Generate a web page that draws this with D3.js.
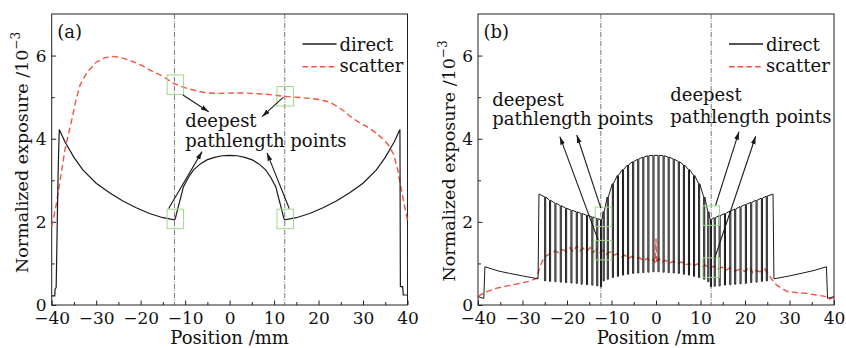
<!DOCTYPE html>
<html>
<head>
<meta charset="utf-8">
<script src="https://cdn.jsdelivr.net/npm/d3@7"></script>
<style>
  body { margin: 0; background: #fff; }
  svg { display: block; font-family: "DejaVu Serif", serif; }
</style>
</head>
<body>
<svg id="chart" width="846" height="348"></svg>
<script>
// axis ticks
const xMajor = [-40, -30, -20, -10, 0, 10, 20, 30, 40];
const xMinor = [-35, -25, -15, -5, 5, 15, 25, 35];
const yMajor = [0, 2, 4, 6];
const yMinor = [1, 3, 5];
const markerX = [-12.4, 12.4];

// panel (a): direct and scatter exposure, [position mm, value 1e-3]
const directA = [
  [-40, 0.22], [-39.3, 0.22], [-39.25, 0.38], [-39.0, 0.42], [-38.9, 1.0], [-38.75, 2.0],
  [-38.55, 3.2], [-38.3, 4.22], [-37, 3.92], [-35, 3.55], [-33, 3.25], [-30, 2.93],
  [-27, 2.7], [-24, 2.5], [-21, 2.34], [-18, 2.2], [-15, 2.1], [-12.4, 2.05],
  [-12.2, 2.08], [-11.7, 2.3], [-11, 2.58], [-10.4, 2.84], [-9.2, 3.08], [-8.1, 3.25],
  [-6.5, 3.4], [-5.1, 3.49], [-3.4, 3.55], [-1.7, 3.59], [0, 3.6], [1.7, 3.59],
  [3.4, 3.55], [5.1, 3.49], [6.5, 3.4], [8.1, 3.25], [9.2, 3.08], [10.4, 2.84],
  [11, 2.58], [11.7, 2.3], [12.2, 2.08], [12.4, 2.05], [15, 2.1], [18, 2.2],
  [21, 2.34], [24, 2.5], [27, 2.7], [30, 2.93], [33, 3.25], [35, 3.55],
  [37, 3.92], [38.3, 4.22], [38.4, 0.44], [38.9, 0.44], [39.05, 0.24], [40, 0.24]
];
const scatterA = [
  [-40, 1.88], [-39, 2.4], [-38.1, 3.0], [-37, 3.75], [-35.5, 4.45], [-34.5, 4.95],
  [-33.6, 5.3], [-32, 5.6], [-30, 5.84], [-28, 5.95], [-26.1, 5.98], [-24, 5.94],
  [-21.6, 5.85], [-19.5, 5.75], [-17.9, 5.65], [-15, 5.5], [-12.6, 5.33], [-9.6, 5.21],
  [-7, 5.14], [-5.1, 5.1], [-2, 5.09], [0.9, 5.1], [3, 5.1], [5.4, 5.09],
  [8, 5.07], [10, 5.05], [12.2, 5.02], [15.9, 4.99], [18, 4.97], [20.4, 4.94],
  [22.5, 4.88], [24.2, 4.78], [25.8, 4.66], [27.2, 4.53], [29.4, 4.37], [30.9, 4.29],
  [33, 4.13], [34.7, 3.97], [35.7, 3.85], [36.9, 3.62], [37.8, 3.25], [38.4, 2.9],
  [39.2, 2.45], [40, 2.04]
];

// panel (b): direct curve = outline points plus narrow notches
const directBOutline = [
  [-40, 0.2], [-38.7, 0.16], [-38.45, 0.92], [-35.5, 0.82], [-32.9, 0.76], [-30, 0.7],
  [-26.5, 0.63], [-26.3, 2.67], [-12.0, 2.12], [12.0, 2.12],
  [26.3, 2.67], [26.5, 0.63], [30, 0.7], [33, 0.77], [35.5, 0.83], [38.3, 0.92],
  [38.55, 0.16], [40, 0.2]
];
const notchX = [
  -24.9, -23.8, -22.6, -21.4, -20.2, -19.0, -17.8, -16.7, -15.5, -14.3, -13.2, -12.35,
  -11.75, -10.83, -9.69, -8.55, -7.41, -6.27, -5.13, -3.99, -2.85, -1.71, -0.57,
  0.57, 1.71, 2.85, 3.99, 5.13, 6.27, 7.41, 8.55, 9.69, 10.83, 11.75,
  12.35, 13.2, 14.3, 15.5, 16.7, 17.8, 19.0, 20.2, 21.4, 22.6, 23.8, 24.9
];
const notchTop = [
  2.6, 2.52, 2.45, 2.39, 2.33, 2.28, 2.24, 2.2, 2.16, 2.12, 2.08, 2.05,
  2.25, 2.6, 2.92, 3.12, 3.26, 3.37, 3.45, 3.51, 3.56, 3.59, 3.6,
  3.6, 3.59, 3.56, 3.51, 3.45, 3.37, 3.26, 3.12, 2.92, 2.6, 2.25,
  2.06, 2.1, 2.15, 2.2, 2.26, 2.31, 2.37, 2.42, 2.47, 2.52, 2.57, 2.62
];
const notchBottom = [
  0.58, 0.57, 0.56, 0.55, 0.54, 0.53, 0.52, 0.5, 0.49, 0.48, 0.46, 0.44,
  0.58, 0.62, 0.66, 0.69, 0.72, 0.74, 0.76, 0.77, 0.78, 0.79, 0.8,
  0.8, 0.79, 0.78, 0.77, 0.76, 0.74, 0.72, 0.69, 0.66, 0.62, 0.56,
  0.44, 0.45, 0.46, 0.48, 0.49, 0.5, 0.51, 0.52, 0.54, 0.55, 0.57, 0.58
];
const scatterB = [
  [-40, 0.2], [-39.2, 0.26], [-38, 0.32], [-36, 0.4], [-34.3, 0.44], [-32, 0.49],
  [-30.6, 0.52], [-28.5, 0.57], [-26.8, 0.64], [-26.1, 0.92], [-25.5, 1.06], [-24.9, 1.16],
  [-23.8, 1.24], [-22.7, 1.3], [-21.9, 1.26], [-21, 1.33], [-20.1, 1.29], [-19.3, 1.38],
  [-18.6, 1.28], [-17.8, 1.42], [-17.1, 1.3], [-16.4, 1.37], [-15.6, 1.29], [-14.8, 1.38],
  [-14.1, 1.27], [-13.3, 1.34], [-12.6, 1.26], [-11.9, 1.32], [-11.2, 1.22], [-10.3, 1.28],
  [-9.5, 1.2], [-8.6, 1.23], [-7.8, 1.15], [-7, 1.2], [-6.2, 1.12], [-5.4, 1.17],
  [-4.5, 1.1], [-3.7, 1.14], [-2.8, 1.06], [-2, 1.12], [-1.2, 1.04], [-0.5, 1.1],
  [-0.15, 1.02], [0, 1.6], [0.15, 1.0], [0.6, 1.12], [1.3, 1.02], [2.1, 1.08],
  [2.9, 1.0], [3.9, 1.05], [4.8, 0.98], [5.7, 1.04], [6.6, 0.96], [7.5, 1.0],
  [8.4, 0.94], [9.3, 0.99], [10.2, 0.91], [11.1, 0.96], [12, 0.88], [12.9, 0.93],
  [13.8, 0.86], [14.8, 0.91], [15.7, 0.84], [16.6, 0.89], [17.6, 0.82], [18.9, 0.86],
  [20, 0.81], [21.1, 0.92], [21.7, 0.78], [22.2, 0.84], [23.3, 0.8], [24.5, 0.86],
  [25.2, 0.76], [26.0, 0.62], [27.1, 0.48], [28.5, 0.38], [29.7, 0.32], [31.5, 0.3],
  [33.9, 0.28], [36, 0.24], [38.4, 0.2], [39.1, 0.14], [39.5, 0.17], [40, 0.18]
];

// annotations in data units
const boxesA = [[-12.2, 5.3], [-12.2, 2.07], [12.5, 5.02], [12.5, 2.07]];
const arrowsA = [
  [[-10.5, 5.05], [-4.7, 4.65]], [[12.1, 5.0], [7.3, 4.53]],
  [[-13.7, 2.32], [-6.2, 3.69]], [[13.4, 2.32], [8.4, 3.66]]
];
const labelsA = [{ x: -10.0, y1: 4.29, y2: 3.81 }];
const boxesB = [[-11.8, 2.12], [-11.8, 1.32], [12.4, 2.15], [12.4, 0.9]];
const arrowsB = [
  [[-13.0, 1.56], [-21.6, 4.05]], [[-12.4, 2.33], [-17.8, 4.09]],
  [[13.4, 2.4], [18.65, 4.17]], [[13.2, 1.13], [22.4, 4.06]]
];
const labelsB = [{ x: -36.8, y1: 4.79, y2: 4.32 }, { x: 3.2, y1: 4.91, y2: 4.39 }];

const svg = d3.select("#chart");
const plotTop = 14, plotBottom = 305;
const redColor = "#f2553f", lineColor = "#1a1a1a", boxColor = "#9fd98c";
const intFormat = d3.format("d");

svg.append("defs").append("marker")
  .attr("id", "arrow")
  .attr("markerUnits", "userSpaceOnUse")
  .attr("markerWidth", 9).attr("markerHeight", 6)
  .attr("refX", 8).attr("refY", 3)
  .attr("orient", "auto")
  .append("path")
  .attr("d", "M0,0.6 L8,3 L0,5.4 Z")
  .attr("fill", lineColor);

function buildComb(outline) {
  const w = 0.12;
  const pts = outline.map(d => d.slice());
  notchX.forEach((x, i) => {
    pts.push([x - w, notchTop[i]], [x - w, notchBottom[i]],
             [x + w, notchBottom[i]], [x + w, notchTop[i]]);
  });
  return pts.sort((a, b) => a[0] - b[0]);
}

function drawPanel(o) {
  const g = svg.append("g");
  const x = d3.scaleLinear().domain([-40, 40]).range([o.left, o.right]);
  const y = d3.scaleLinear().domain([0, 7]).range([plotBottom, plotTop]);

  // axes, ticks pointing inward
  g.append("g").attr("transform", `translate(0,${plotBottom})`)
    .call(d3.axisBottom(x).tickValues(xMinor).tickFormat("").tickSizeInner(-3).tickSizeOuter(0));
  g.append("g").attr("transform", `translate(0,${plotBottom})`)
    .call(d3.axisBottom(x).tickValues(xMajor).tickFormat(intFormat)
      .tickSizeInner(-4.5).tickSizeOuter(0).tickPadding(7));
  g.append("g").attr("transform", `translate(${o.left},0)`)
    .call(d3.axisLeft(y).tickValues(yMinor).tickFormat("").tickSizeInner(-3).tickSizeOuter(0));
  g.append("g").attr("transform", `translate(${o.left},0)`)
    .call(d3.axisLeft(y).tickValues(yMajor).tickFormat(intFormat)
      .tickSizeInner(-4.5).tickSizeOuter(0).tickPadding(5));
  g.selectAll(".domain").remove();
  g.selectAll(".tick line").attr("stroke", "#222");
  g.selectAll(".tick text").attr("font-family", "DejaVu Serif").attr("font-size", 17).attr("fill", "#111");

  g.append("rect")
    .attr("x", o.left).attr("y", plotTop)
    .attr("width", o.right - o.left).attr("height", plotBottom - plotTop)
    .attr("fill", "none").attr("stroke", "#222").attr("stroke-width", 1);

  // dash-dot markers at the deepest points
  g.selectAll(".marker").data(markerX).join("line")
    .attr("x1", d => x(d)).attr("x2", d => x(d))
    .attr("y1", plotTop).attr("y2", plotBottom)
    .attr("stroke", "#555").attr("stroke-width", 0.8)
    .attr("stroke-dasharray", "5,1.5,1,1.5");

  const line = d3.line().x(d => x(d[0])).y(d => y(d[1]));

  g.append("path").datum(o.scatter)
    .attr("d", line).attr("fill", "none")
    .attr("stroke", redColor).attr("stroke-width", 1.4)
    .attr("stroke-dasharray", "6,3.5");

  g.append("path").datum(o.direct)
    .attr("d", line).attr("fill", "none")
    .attr("stroke", lineColor).attr("stroke-width", o.lineWidth)
    .attr("stroke-linejoin", "miter");

  g.selectAll(".box").data(o.boxes).join("rect")
    .attr("x", d => x(d[0]) - 8.25).attr("y", d => y(d[1]) - 9.75)
    .attr("width", 16.5).attr("height", 19.5)
    .attr("fill", "none").attr("stroke", boxColor).attr("stroke-width", 1);

  g.selectAll(".arrow").data(o.arrows).join("line")
    .attr("x1", d => x(d[0][0])).attr("y1", d => y(d[0][1]))
    .attr("x2", d => x(d[1][0])).attr("y2", d => y(d[1][1]))
    .attr("stroke", lineColor).attr("stroke-width", 1.1)
    .attr("marker-end", "url(#arrow)");

  o.labels.forEach(l => {
    g.append("text").attr("x", x(l.x)).attr("y", y(l.y1))
      .attr("font-size", 18).attr("fill", "#111").text("deepest");
    g.append("text").attr("x", x(l.x)).attr("y", y(l.y2))
      .attr("font-size", 18).attr("fill", "#111").text("pathlength points");
  });

  // panel letter
  g.append("text").attr("x", o.left + 5.5).attr("y", 37.5)
    .attr("font-size", 18).attr("fill", "#111").text(o.letter);

  // legend
  const lg = g.append("g").attr("transform", `translate(${o.right},0)`);
  lg.append("line").attr("x1", -105).attr("x2", -71).attr("y1", 44).attr("y2", 44)
    .attr("stroke", lineColor).attr("stroke-width", 1.3);
  lg.append("line").attr("x1", -105).attr("x2", -71).attr("y1", 66.7).attr("y2", 66.7)
    .attr("stroke", redColor).attr("stroke-width", 1.4).attr("stroke-dasharray", "5.5,3.2");
  lg.append("text").attr("x", -68).attr("y", 50.5).attr("font-size", 18).attr("fill", "#111").text("direct");
  lg.append("text").attr("x", -68).attr("y", 72.3).attr("font-size", 18).attr("fill", "#111").text("scatter");

  // axis titles
  g.append("text")
    .attr("x", (o.left + o.right) / 2).attr("y", 344)
    .attr("text-anchor", "middle").attr("font-size", 18).attr("fill", "#111")
    .text("Position /mm");
  const yt = g.append("text")
    .attr("transform", `translate(${o.yTitleX},${o.yTitleY}) rotate(-90)`)
    .attr("text-anchor", "middle").attr("font-size", 17.5).attr("fill", "#111");
  yt.append("tspan").text("Normalized exposure /10");
  yt.append("tspan").attr("font-size", 12).attr("dy", -8).text("\u22123");
}

drawPanel({
  left: 51.7, right: 407.5, letter: "(a)", lineWidth: 1.2,
  direct: directA, scatter: scatterA,
  boxes: boxesA, arrows: arrowsA, labels: labelsA,
  yTitleX: 28.3, yTitleY: 152.5
});
drawPanel({
  left: 478, right: 834, letter: "(b)", lineWidth: 1.0,
  direct: buildComb(directBOutline), scatter: scatterB,
  boxes: boxesB, arrows: arrowsB, labels: labelsB,
  yTitleX: 455, yTitleY: 161
});
</script>
</body>
</html>
